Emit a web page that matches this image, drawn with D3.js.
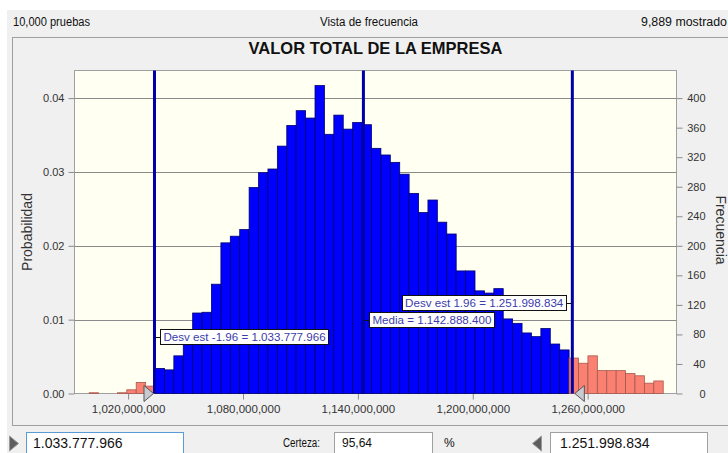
<!DOCTYPE html>
<html>
<head>
<meta charset="utf-8">
<script src="https://cdn.jsdelivr.net/npm/d3@7"></script>
<style>
  body { margin: 0; background: #ffffff; }
  svg { display: block; font-family: 'Liberation Sans', Arial, sans-serif; }
</style>
</head>
<body>
<div class="graph-frecuencia"><svg></svg></div>
<script>
// Datos de la simulacion
const trials = 10000
const shown = 9889
const binStart = 999650000
const binWidth = 4915000
const counts = [
  1, 0, 0, 1, 5, 15, 10, 34, 32, 51,
  66, 109, 110, 148, 204, 213, 222, 279, 299, 304,
  335, 363, 383, 373, 417, 351, 377, 358, 367, 364,
  332, 323, 313, 297, 271, 245, 262, 232, 216, 166,
  166, 139, 136, 142, 101, 95, 82, 77, 88, 67,
  59, 48, 41, 51, 31, 31, 31, 27, 24, 14, 17
]
const lowerBound = 1033777966
const mean = 1142888400
const upperBound = 1251998834
const certainty = '95,64'
const xDomain = [992000000, 1306400000]
const xTicks = [1020000000, 1080000000, 1140000000, 1200000000, 1260000000]
const probTicks = [0, 0.01, 0.02, 0.03, 0.04]
const freqTicks = [0, 40, 80, 120, 160, 200, 240, 280, 320, 360, 400]

const width = 728
const height = 453
const plot = { left: 74.5, top: 70.5, right: 676.5, bottom: 393.5 }
const probMax = 0.04374

const esFormat = d3.formatLocale({ decimal: ',', thousands: '.', grouping: [3], currency: ['', ''] }).format(',')

/**
 * Draws the grey window background, header texts and frame.
 *
 * @param {*} svg The d3 Selection of the svg element
 */
function drawFrame (svg) {
  svg.append('rect')
    .attr('x', 7).attr('y', 10)
    .attr('width', width).attr('height', height)
    .attr('fill', '#f0f0f0')

  const header = svg.append('g')
    .attr('font-size', 12)
    .attr('fill', '#111')
  header.append('text').text(d3.format(',')(trials) + ' pruebas')
    .attr('x', 13).attr('y', 26)
    .attr('textLength', 77).attr('lengthAdjust', 'spacingAndGlyphs')
  header.append('text').text('Vista de frecuencia')
    .attr('x', 320).attr('y', 26)
    .attr('textLength', 98).attr('lengthAdjust', 'spacingAndGlyphs')
  header.append('text').text(d3.format(',')(shown) + ' mostrado')
    .attr('x', 641).attr('y', 26)
    .attr('textLength', 86).attr('lengthAdjust', 'spacingAndGlyphs')

  svg.append('rect')
    .attr('x', 12.5).attr('y', 37.5)
    .attr('width', 740).attr('height', 388)
    .attr('fill', 'none')
    .attr('stroke', '#a0a0a0')

  svg.append('text')
    .text('VALOR TOTAL DE LA EMPRESA')
    .attr('x', 375.5).attr('y', 53.5)
    .attr('text-anchor', 'middle')
    .attr('font-size', 16.5)
    .attr('font-weight', 'bold')
    .attr('fill', '#111')
}

/**
 * Draws the plot background, gridlines and the three axes.
 *
 * @param {*} svg The d3 Selection of the svg element
 * @param {*} xScale The value scale
 * @param {*} yScale The probability scale
 * @param {*} fScale The frequency scale
 */
function drawAxes (svg, xScale, yScale, fScale) {
  svg.append('rect')
    .attr('x', plot.left).attr('y', plot.top)
    .attr('width', plot.right - plot.left)
    .attr('height', plot.bottom - plot.top)
    .attr('fill', '#fffff2')
    .attr('stroke', '#a0a0a0')

  svg.append('g')
    .selectAll('line')
    .data(probTicks.filter(d => d > 0))
    .join('line')
    .attr('x1', plot.left).attr('x2', plot.right)
    .attr('y1', d => Math.round(yScale(d)) + 0.5)
    .attr('y2', d => Math.round(yScale(d)) + 0.5)
    .attr('stroke', '#8a8a8a')

  const yAxis = svg.append('g')
    .attr('class', 'y axis')
    .attr('transform', 'translate(' + plot.left + ',0)')
    .call(d3.axisLeft(yScale).tickValues(probTicks).tickFormat(d3.format('.2f')).tickSize(6).tickPadding(4).tickSizeOuter(0))

  const fAxis = svg.append('g')
    .attr('class', 'f axis')
    .attr('transform', 'translate(' + plot.right + ',0)')
    .call(d3.axisRight(fScale).tickValues(freqTicks).tickSize(6).tickSizeOuter(0))
  fAxis.selectAll('text').attr('text-anchor', 'end').attr('x', 29)

  const xAxis = svg.append('g')
    .attr('class', 'x axis')
    .attr('transform', 'translate(0,' + plot.bottom + ')')
    .call(d3.axisBottom(xScale).tickValues(xTicks).tickFormat(d3.format(',')).tickSize(6).tickPadding(5).tickSizeOuter(0))

  for (const axis of [yAxis, fAxis, xAxis]) {
    axis.select('.domain').remove()
    axis.selectAll('line').attr('stroke', '#8a8a8a')
    axis.selectAll('text')
      .attr('font-family', "'Liberation Sans', Arial, sans-serif")
      .attr('font-size', 11)
      .attr('fill', '#333')
  }
  xAxis.selectAll('text').attr('font-size', 11.5)

  svg.append('text')
    .text('Probabilidad')
    .attr('transform', 'translate(32,232) rotate(-90)')
    .attr('text-anchor', 'middle')
    .attr('font-size', 14)
    .attr('fill', '#333')

  svg.append('text')
    .text('Frecuencia')
    .attr('transform', 'translate(716,230) rotate(90)')
    .attr('text-anchor', 'middle')
    .attr('font-size', 14)
    .attr('fill', '#333')
}

/**
 * Draws the histogram bars, blue inside the certainty range and salmon outside.
 *
 * @param {*} svg The d3 Selection of the svg element
 * @param {*} xScale The value scale
 * @param {*} yScale The probability scale
 */
function drawBars (svg, xScale, yScale) {
  const bins = counts.map((c, i) => ({
    x0: binStart + i * binWidth,
    x1: binStart + (i + 1) * binWidth,
    p: c / trials
  })).filter(d => d.p > 0)

  const inside = d => {
    const mid = (d.x0 + d.x1) / 2
    return mid >= lowerBound && mid <= upperBound
  }

  svg.append('g')
    .selectAll('rect')
    .data(bins)
    .join('rect')
    .attr('x', d => xScale(d.x0))
    .attr('width', d => xScale(d.x1) - xScale(d.x0))
    .attr('y', d => yScale(d.p))
    .attr('height', d => yScale(0) - yScale(d.p))
    .attr('fill', d => inside(d) ? '#0000ff' : '#fa8072')
    .attr('stroke', d => inside(d) ? '#00006e' : '#a8584e')
    .attr('stroke-width', 0.8)
}

/**
 * Draws the mean and +-1.96 standard deviation lines with their labels.
 *
 * @param {*} svg The d3 Selection of the svg element
 * @param {*} xScale The value scale
 */
function drawMarkers (svg, xScale) {
  const markers = [
    { value: lowerBound, label: 'Desv est -1.96 = ', side: 'right', y: 337 },
    { value: mean, label: 'Media = ', side: 'right', y: 320 },
    { value: upperBound, label: 'Desv est 1.96 = ', side: 'left', y: 303 }
  ]

  svg.append('g')
    .selectAll('line')
    .data(markers)
    .join('line')
    .attr('x1', d => xScale(d.value)).attr('x2', d => xScale(d.value))
    .attr('y1', plot.top).attr('y2', plot.bottom)
    .attr('stroke', '#0000a8')
    .attr('stroke-width', 3)

  markers.forEach(d => {
    const lx = xScale(d.value)
    const g = svg.append('g')
    const box = g.append('rect')
    const text = g.append('text')
      .text(d.label + esFormat(d.value))
      .attr('font-size', 11.6)
      .attr('fill', '#3c3caa')
    const w = text.node().getComputedTextLength() + 6
    const bx = d.side === 'right' ? lx + 6 : lx - 6 - w
    text.attr('x', bx + 3).attr('y', d.y + 4)
    box.attr('x', Math.round(bx) + 0.5).attr('y', d.y - 7.5)
      .attr('width', Math.round(w)).attr('height', 15)
      .attr('fill', '#ffffff').attr('stroke', '#111')
    g.append('line')
      .attr('x1', d.side === 'right' ? lx + 1 : lx - 6)
      .attr('x2', d.side === 'right' ? lx + 6 : lx - 1)
      .attr('y1', d.y + 0.5).attr('y2', d.y + 0.5)
      .attr('stroke', '#111')
  })

  // triangulos de los limites de certeza
  const lo = xScale(lowerBound)
  const hi = xScale(upperBound)
  svg.append('path')
    .attr('d', `M${lo - 10.5},385.5 L${lo - 10.5},401.5 L${lo - 1},393.5 Z`)
    .attr('fill', '#c9c9d2').attr('stroke', '#555')
  svg.append('path')
    .attr('d', `M${hi + 12},385.5 L${hi + 12},401.5 L${hi + 2.5},393.5 Z`)
    .attr('fill', '#c9c9d2').attr('stroke', '#555')
}

/**
 * Draws the certainty controls under the chart.
 *
 * @param {*} svg The d3 Selection of the svg element
 */
function drawControls (svg) {
  const g = svg.append('g').attr('font-size', 14).attr('fill', '#111')

  g.append('path').attr('d', 'M9.5,436 L9.5,451 L18.5,443.5 Z')
    .attr('fill', '#5e5e5e').attr('stroke', '#9a9a9a')
  g.append('rect').attr('x', 26.5).attr('y', 432.5).attr('width', 157).attr('height', 25)
    .attr('fill', '#fff').attr('stroke', '#5b9bd5')
  g.append('text').text(esFormat(lowerBound)).attr('x', 33).attr('y', 448)

  g.append('text').text('Certeza:').attr('x', 283).attr('y', 447).attr('font-size', 12)
    .attr('textLength', 37).attr('lengthAdjust', 'spacingAndGlyphs')
  g.append('rect').attr('x', 334.5).attr('y', 432.5).attr('width', 98).attr('height', 25)
    .attr('fill', '#fff').attr('stroke', '#a0a0a0')
  g.append('text').text(certainty).attr('x', 342).attr('y', 447).attr('font-size', 12)
  g.append('text').text('%').attr('x', 444).attr('y', 447).attr('font-size', 12)

  g.append('path').attr('d', 'M541.5,436 L541.5,451 L532.5,443.5 Z')
    .attr('fill', '#5e5e5e').attr('stroke', '#9a9a9a')
  g.append('rect').attr('x', 550.5).attr('y', 432.5).attr('width', 157).attr('height', 25)
    .attr('fill', '#fff').attr('stroke', '#a0a0a0')
  g.append('text').text(esFormat(upperBound)).attr('x', 560).attr('y', 448)
}

const svg = d3.select('.graph-frecuencia').select('svg')
  .attr('width', width)
  .attr('height', height)

const xScale = d3.scaleLinear().domain(xDomain).range([plot.left, plot.right])
const yScale = d3.scaleLinear().domain([0, probMax]).range([plot.bottom, plot.top])
const fScale = d3.scaleLinear().domain([0, probMax * trials]).range([plot.bottom, plot.top])

drawFrame(svg)
drawAxes(svg, xScale, yScale, fScale)
drawBars(svg, xScale, yScale)
drawMarkers(svg, xScale)
drawControls(svg)
</script>
</body>
</html>
